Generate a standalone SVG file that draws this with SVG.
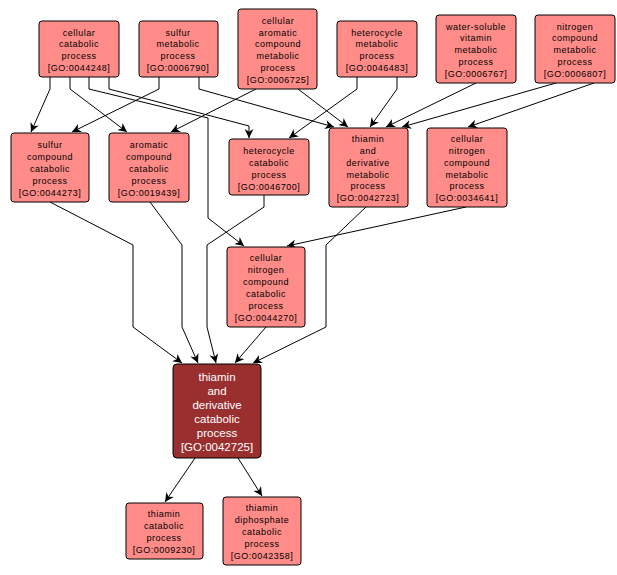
<svg xmlns="http://www.w3.org/2000/svg" width="617" height="575" viewBox="0 0 617 575">
<style>
.n rect{fill:#ff8c88;stroke:#000;stroke-width:1}
.n text{font-family:"Liberation Sans",Arial,sans-serif;font-size:9px;text-anchor:middle;fill:#000;letter-spacing:0.5px}
.m rect{fill:#9a2f2f;stroke:#000}
.m text{font-family:"Liberation Sans",Arial,sans-serif;font-size:11.5px;text-anchor:middle;fill:#fff}
.e path{fill:none;stroke:#000;stroke-width:1;marker-end:url(#a)}
</style>
<defs><marker id="a" viewBox="0 0 10 10" refX="10" refY="5" markerWidth="9" markerHeight="9" orient="auto" markerUnits="userSpaceOnUse"><path d="M0,0 L10,5 L0,10 L3,5 Z" fill="#000"/></marker></defs>
<rect width="617" height="575" fill="#fff"/>
<g id="edges" class="e">
<path d="M50,77 V89 L31,132"/>
<path d="M70,77 V89 L127,132"/>
<path d="M89,77 V89 L208,118 V218 L244,246"/>
<path d="M109,77 V89 L249,126 V138"/>
<path d="M159,77 V89 L72,132"/>
<path d="M199,77 V89 L334,127"/>
<path d="M256,89 L171,132"/>
<path d="M298,89 L348,127"/>
<path d="M357,77 V89 L289,138"/>
<path d="M397,77 V89 L370,127"/>
<path d="M476,83 L386,127"/>
<path d="M556,83 L402,127"/>
<path d="M594,83 L468,127"/>
<path d="M50,202 L133,245 V327 L182,363"/>
<path d="M150,202 L182,245 V327 L198,363"/>
<path d="M264,195 V207 L207,245 V327 L216,363"/>
<path d="M266,327 L235,363"/>
<path d="M366,207 L326,245 V327 L253,363"/>
<path d="M466,207 L287,246"/>
<path d="M195,458 L165,502"/>
<path d="M238,458 L262,496"/>
</g>
<g id="n1" class="n"><rect x="39" y="21" width="80" height="56" rx="3"/><text x="79" y="36">cellular</text><text x="79" y="47">catabolic</text><text x="79" y="59">process</text><text x="79" y="71">[GO:0044248]</text></g>
<g id="n2" class="n"><rect x="139" y="21" width="79" height="56" rx="3"/><text x="178" y="36">sulfur</text><text x="178" y="47">metabolic</text><text x="178" y="59">process</text><text x="178" y="71">[GO:0006790]</text></g>
<g id="n3" class="n"><rect x="238" y="9" width="79" height="80" rx="3"/><text x="278" y="24">cellular</text><text x="278" y="36">aromatic</text><text x="278" y="47">compound</text><text x="278" y="59">metabolic</text><text x="278" y="71">process</text><text x="278" y="83">[GO:0006725]</text></g>
<g id="n4" class="n"><rect x="337" y="21" width="80" height="56" rx="3"/><text x="377" y="36">heterocycle</text><text x="377" y="47">metabolic</text><text x="377" y="59">process</text><text x="377" y="71">[GO:0046483]</text></g>
<g id="n5" class="n"><rect x="436" y="15" width="80" height="68" rx="3"/><text x="476" y="30">water-soluble</text><text x="476" y="41">vitamin</text><text x="476" y="53">metabolic</text><text x="476" y="65">process</text><text x="476" y="77">[GO:0006767]</text></g>
<g id="n6" class="n"><rect x="535" y="15" width="80" height="68" rx="3"/><text x="575" y="30">nitrogen</text><text x="575" y="41">compound</text><text x="575" y="53">metabolic</text><text x="575" y="65">process</text><text x="575" y="77">[GO:0006807]</text></g>
<g id="n7" class="n"><rect x="11" y="133" width="78" height="69" rx="3"/><text x="50" y="148">sulfur</text><text x="50" y="160">compound</text><text x="50" y="172">catabolic</text><text x="50" y="184">process</text><text x="50" y="196">[GO:0044273]</text></g>
<g id="n8" class="n"><rect x="109" y="133" width="80" height="69" rx="3"/><text x="149" y="148">aromatic</text><text x="149" y="160">compound</text><text x="149" y="172">catabolic</text><text x="149" y="184">process</text><text x="149" y="196">[GO:0019439]</text></g>
<g id="n9" class="n"><rect x="229" y="139" width="80" height="56" rx="3"/><text x="269" y="154">heterocycle</text><text x="269" y="166">catabolic</text><text x="269" y="178">process</text><text x="269" y="190">[GO:0046700]</text></g>
<g id="n10" class="n"><rect x="329" y="128" width="79" height="79" rx="3"/><text x="368" y="142">thiamin</text><text x="368" y="154">and</text><text x="368" y="166">derivative</text><text x="368" y="178">metabolic</text><text x="368" y="189">process</text><text x="368" y="201">[GO:0042723]</text></g>
<g id="n11" class="n"><rect x="427" y="128" width="80" height="79" rx="3"/><text x="467" y="142">cellular</text><text x="467" y="154">nitrogen</text><text x="467" y="166">compound</text><text x="467" y="178">metabolic</text><text x="467" y="189">process</text><text x="467" y="201">[GO:0034641]</text></g>
<g id="n12" class="n"><rect x="227" y="247" width="78" height="80" rx="3"/><text x="266" y="261">cellular</text><text x="266" y="273">nitrogen</text><text x="266" y="285">compound</text><text x="266" y="297">catabolic</text><text x="266" y="309">process</text><text x="266" y="321">[GO:0044270]</text></g>
<g id="n13" class="m"><rect x="173" y="364" width="88" height="94" rx="4"/><text x="217" y="381">thiamin</text><text x="217" y="395">and</text><text x="217" y="409">derivative</text><text x="217" y="423">catabolic</text><text x="217" y="437">process</text><text x="217" y="451">[GO:0042725]</text></g>
<g id="n14" class="n"><rect x="126" y="503" width="77" height="56" rx="3"/><text x="164" y="517">thiamin</text><text x="164" y="529">catabolic</text><text x="164" y="541">process</text><text x="164" y="553">[GO:0009230]</text></g>
<g id="n15" class="n"><rect x="223" y="497" width="78" height="68" rx="3"/><text x="262" y="511">thiamin</text><text x="262" y="523">diphosphate</text><text x="262" y="535">catabolic</text><text x="262" y="547">process</text><text x="262" y="559">[GO:0042358]</text></g>
</svg>
